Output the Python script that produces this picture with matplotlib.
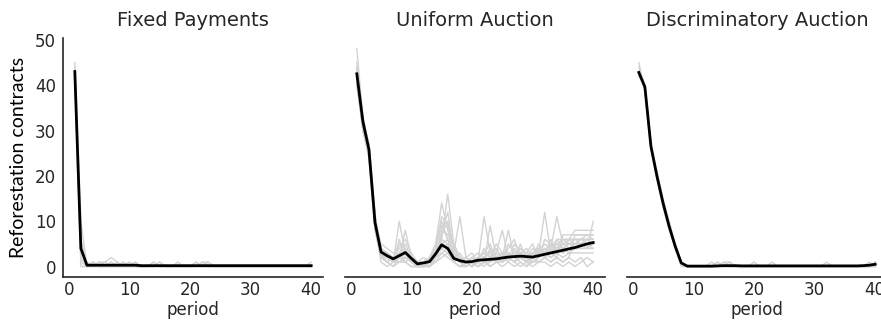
import matplotlib
matplotlib.use("Agg")
import matplotlib.pyplot as plt
import numpy as np

periods = np.arange(1, 41)
titles = ["Fixed Payments", "Uniform Auction", "Discriminatory Auction"]

# per-group contract counts, one list per session
fixed_groups = [
    [45, 10, 0, 1, 0, 0, 1, 0, 1, 0, 0, 0, 0, 0, 1, 0, 0, 0, 0, 0, 0, 1, 0, 0, 0, 0, 0, 0, 0, 0, 0, 0, 0, 0, 0, 0, 0, 0, 0, 0],
    [43, 6, 0, 0, 1, 0, 0, 1, 0, 1, 0, 0, 0, 1, 0, 0, 0, 1, 0, 0, 1, 0, 1, 0, 0, 0, 0, 0, 0, 0, 0, 0, 0, 0, 0, 0, 0, 0, 0, 1],
    [42, 0, 0, 1, 0, 1, 0, 0, 0, 0, 1, 0, 0, 0, 0, 0, 0, 0, 0, 0, 0, 0, 0, 0, 0, 0, 0, 0, 0, 0, 0, 0, 0, 0, 0, 0, 0, 0, 0, 0],
    [44, 4, 1, 0, 0, 0, 1, 0, 0, 1, 0, 0, 0, 0, 1, 0, 0, 0, 0, 0, 1, 0, 0, 0, 0, 0, 0, 0, 0, 0, 0, 0, 0, 0, 0, 0, 0, 0, 0, 0],
    [41, 2, 0, 0, 1, 1, 2, 1, 0, 0, 0, 0, 0, 0, 0, 0, 0, 0, 0, 0, 0, 1, 1, 0, 0, 0, 0, 0, 0, 0, 0, 0, 0, 0, 0, 0, 0, 0, 0, 0],
    [43, 1, 0, 1, 0, 0, 0, 0, 1, 0, 1, 0, 0, 1, 0, 0, 0, 0, 0, 0, 0, 0, 0, 0, 0, 0, 0, 0, 0, 0, 0, 0, 0, 0, 0, 0, 0, 0, 0, 0],
]
uniform_groups = [
    [45, 33, 26, 10, 3, 2, 1, 10, 3, 1, 0, 1, 1, 2, 4, 3, 1, 0, 1, 0, 2, 1, 1, 3, 2, 1, 4, 2, 3, 1, 2, 3, 4, 5, 6, 6, 6, 6, 6, 6],
    [42, 31, 25, 9, 4, 3, 2, 2, 8, 2, 1, 0, 2, 5, 14, 8, 2, 1, 0, 1, 1, 2, 0, 1, 2, 3, 2, 1, 0, 2, 3, 12, 3, 2, 7, 7, 7, 7, 7, 7],
    [40, 30, 24, 8, 2, 1, 2, 1, 2, 1, 0, 1, 0, 3, 6, 16, 5, 2, 1, 0, 1, 11, 3, 2, 1, 2, 1, 3, 2, 1, 2, 3, 4, 11, 5, 5, 5, 5, 6, 6],
    [44, 32, 27, 11, 3, 2, 1, 3, 1, 2, 1, 0, 1, 2, 5, 4, 3, 11, 2, 1, 0, 1, 9, 2, 3, 2, 1, 2, 3, 2, 4, 3, 5, 4, 3, 6, 8, 8, 8, 8],
    [43, 32, 26, 10, 5, 4, 3, 2, 2, 1, 0, 1, 2, 4, 9, 6, 2, 1, 2, 1, 2, 3, 2, 3, 8, 2, 3, 2, 1, 3, 2, 4, 3, 5, 4, 5, 4, 5, 4, 10],
    [41, 30, 25, 9, 2, 1, 0, 1, 1, 0, 0, 0, 1, 1, 3, 2, 1, 0, 1, 2, 1, 2, 3, 2, 1, 2, 3, 4, 3, 2, 3, 4, 3, 4, 5, 4, 5, 6, 5, 4],
    [42, 31, 26, 10, 3, 2, 2, 4, 6, 3, 1, 1, 0, 2, 7, 12, 3, 1, 0, 1, 2, 1, 2, 3, 2, 8, 2, 3, 2, 3, 4, 3, 2, 3, 2, 3, 3, 3, 3, 3],
    [43, 33, 25, 9, 1, 0, 1, 2, 3, 1, 0, 0, 1, 3, 4, 5, 2, 1, 1, 0, 1, 2, 1, 2, 3, 2, 3, 2, 1, 2, 1, 2, 1, 2, 1, 2, 1, 2, 0, 1],
    [44, 32, 27, 11, 4, 2, 1, 2, 2, 2, 1, 1, 0, 2, 3, 4, 1, 2, 1, 0, 1, 0, 2, 1, 1, 2, 1, 0, 1, 0, 1, 1, 0, 1, 0, 1, 0, 1, 2, 1],
    [40, 31, 24, 10, 3, 2, 1, 1, 2, 1, 1, 2, 1, 3, 5, 6, 3, 2, 1, 2, 1, 2, 1, 2, 2, 3, 2, 3, 2, 3, 2, 3, 3, 6, 6, 6, 6, 6, 6, 6],
    [48, 33, 27, 12, 2, 3, 2, 3, 4, 2, 0, 1, 2, 4, 11, 9, 4, 2, 1, 1, 0, 1, 1, 2, 1, 2, 1, 2, 1, 1, 2, 3, 2, 3, 4, 3, 4, 4, 4, 5],
    [42, 30, 25, 8, 2, 1, 0, 2, 1, 0, 0, 0, 0, 1, 2, 3, 1, 0, 0, 1, 0, 1, 0, 1, 0, 1, 0, 1, 0, 1, 1, 2, 1, 2, 1, 2, 7, 7, 7, 7],
    [43, 32, 26, 11, 2, 3, 1, 5, 4, 1, 0, 1, 0, 2, 8, 7, 5, 2, 0, 1, 2, 3, 5, 1, 2, 4, 6, 2, 3, 5, 2, 6, 5, 4, 6, 5, 6, 5, 6, 5],
    [41, 31, 25, 10, 3, 1, 2, 3, 5, 2, 1, 0, 1, 4, 10, 6, 3, 1, 2, 3, 1, 4, 2, 5, 3, 2, 5, 3, 4, 2, 5, 3, 6, 3, 5, 6, 5, 6, 7, 6],
    [44, 33, 26, 9, 2, 2, 1, 6, 2, 1, 1, 0, 0, 2, 6, 5, 2, 3, 1, 2, 3, 2, 3, 4, 2, 5, 3, 4, 2, 4, 3, 5, 4, 6, 4, 5, 5, 5, 5, 5],
    [42, 30, 26, 10, 4, 3, 1, 2, 3, 2, 0, 1, 1, 3, 7, 10, 4, 2, 1, 0, 2, 1, 4, 2, 1, 3, 2, 5, 1, 3, 4, 2, 3, 4, 3, 4, 4, 4, 4, 4],
]
discrim_groups = [
    [44, 40, 27, 20, 14, 9, 4, 1, 0, 0, 0, 0, 0, 1, 0, 0, 0, 0, 0, 0, 0, 0, 1, 0, 0, 0, 0, 0, 0, 0, 0, 0, 0, 0, 0, 0, 0, 0, 1, 0],
    [45, 39, 26, 19, 13, 8, 4, 0, 0, 0, 0, 0, 1, 0, 1, 0, 0, 0, 0, 1, 0, 0, 0, 0, 0, 0, 0, 0, 0, 0, 0, 0, 0, 0, 0, 0, 0, 0, 0, 1],
    [42, 40, 27, 21, 15, 10, 5, 1, 0, 0, 0, 0, 0, 0, 1, 1, 0, 0, 0, 0, 0, 0, 0, 0, 0, 0, 0, 0, 0, 0, 0, 1, 0, 0, 0, 0, 0, 0, 0, 0],
    [43, 39, 26, 20, 14, 9, 5, 1, 0, 0, 0, 0, 0, 1, 0, 0, 0, 0, 0, 0, 0, 0, 0, 0, 0, 0, 0, 0, 0, 0, 0, 0, 0, 0, 0, 0, 0, 0, 0, 1],
    [42, 40, 26, 20, 14, 9, 4, 1, 0, 0, 0, 0, 0, 0, 0, 1, 0, 0, 0, 0, 0, 0, 0, 0, 0, 0, 0, 0, 0, 0, 0, 0, 0, 0, 0, 0, 0, 0, 0, 0],
]

# treatment means
fixed_mean = [43, 4, 0.3, 0.3, 0.3, 0.3, 0.3, 0.3, 0.3, 0.3, 0.3, 0.2, 0.2, 0.2, 0.2, 0.2, 0.2, 0.2, 0.2, 0.2,
              0.2, 0.2, 0.2, 0.2, 0.2, 0.2, 0.2, 0.2, 0.2, 0.2, 0.2, 0.2, 0.2, 0.2, 0.2, 0.2, 0.2, 0.2, 0.2, 0.2]
uniform_mean = [42.5, 32, 25.8, 9.7, 3.2, 2.4, 1.7, 2.4, 3.1, 1.8, 0.6, 0.8, 1.1, 2.8, 4.8, 4.0, 1.8, 1.3, 1.0, 1.1,
                1.4, 1.5, 1.6, 1.7, 1.9, 2.1, 2.2, 2.3, 2.2, 2.1, 2.4, 2.7, 3.0, 3.3, 3.6, 3.9, 4.2, 4.6, 5.0, 5.3]
discrim_mean = [42.8, 39.6, 26.5, 19.9, 14, 8.9, 4.5, 0.8, 0.1, 0.1, 0.1, 0.1, 0.1, 0.15, 0.2, 0.2, 0.2, 0.15, 0.15, 0.15,
                0.15, 0.15, 0.15, 0.15, 0.15, 0.15, 0.15, 0.15, 0.15, 0.15, 0.15, 0.15, 0.15, 0.15, 0.15, 0.15, 0.15, 0.2, 0.3, 0.5]

groups = [fixed_groups, uniform_groups, discrim_groups]
means = [fixed_mean, uniform_mean, discrim_mean]

W, H = 881, 322
fig = plt.figure(figsize=(W / 100, H / 100), dpi=100)
dark = "#262626"
lefts = [63, 345, 627]
axes = []
for i in range(3):
    ax = fig.add_axes([lefts[i] / W, 45 / H, 260 / W, 239 / H],
                      sharey=axes[0] if axes else None)
    axes.append(ax)
    for g in groups[i]:
        ax.plot(periods, g, color="#d3d3d3", lw=1, zorder=1)
    ax.plot(periods, means[i], color="black", lw=2, zorder=2)
    ax.set_title(titles[i], fontsize=14, color=dark, pad=9)
    ax.set_xlabel("period", fontsize=12, color=dark, labelpad=1)
    ax.set_xticks([0, 10, 20, 30, 40])
    ax.tick_params(length=0, labelsize=12, colors=dark, pad=3)
    for s in ["top", "right"]:
        ax.spines[s].set_visible(False)
    for s in ["left", "bottom"]:
        ax.spines[s].set_color(dark)
        ax.spines[s].set_linewidth(1.2)
    if i > 0:
        ax.spines["left"].set_visible(False)
        ax.tick_params(labelleft=False)

axes[0].tick_params(axis="y", pad=5)
axes[0].set_yticks([0, 10, 20, 30, 40, 50])
axes[0].set_ylim(-2.3, 50.4)
axes[0].set_ylabel("Reforestation contracts", fontsize=14, family=["Lato", "DejaVu Sans"], color="black", labelpad=6)

fig.savefig("out.png", dpi=100)
